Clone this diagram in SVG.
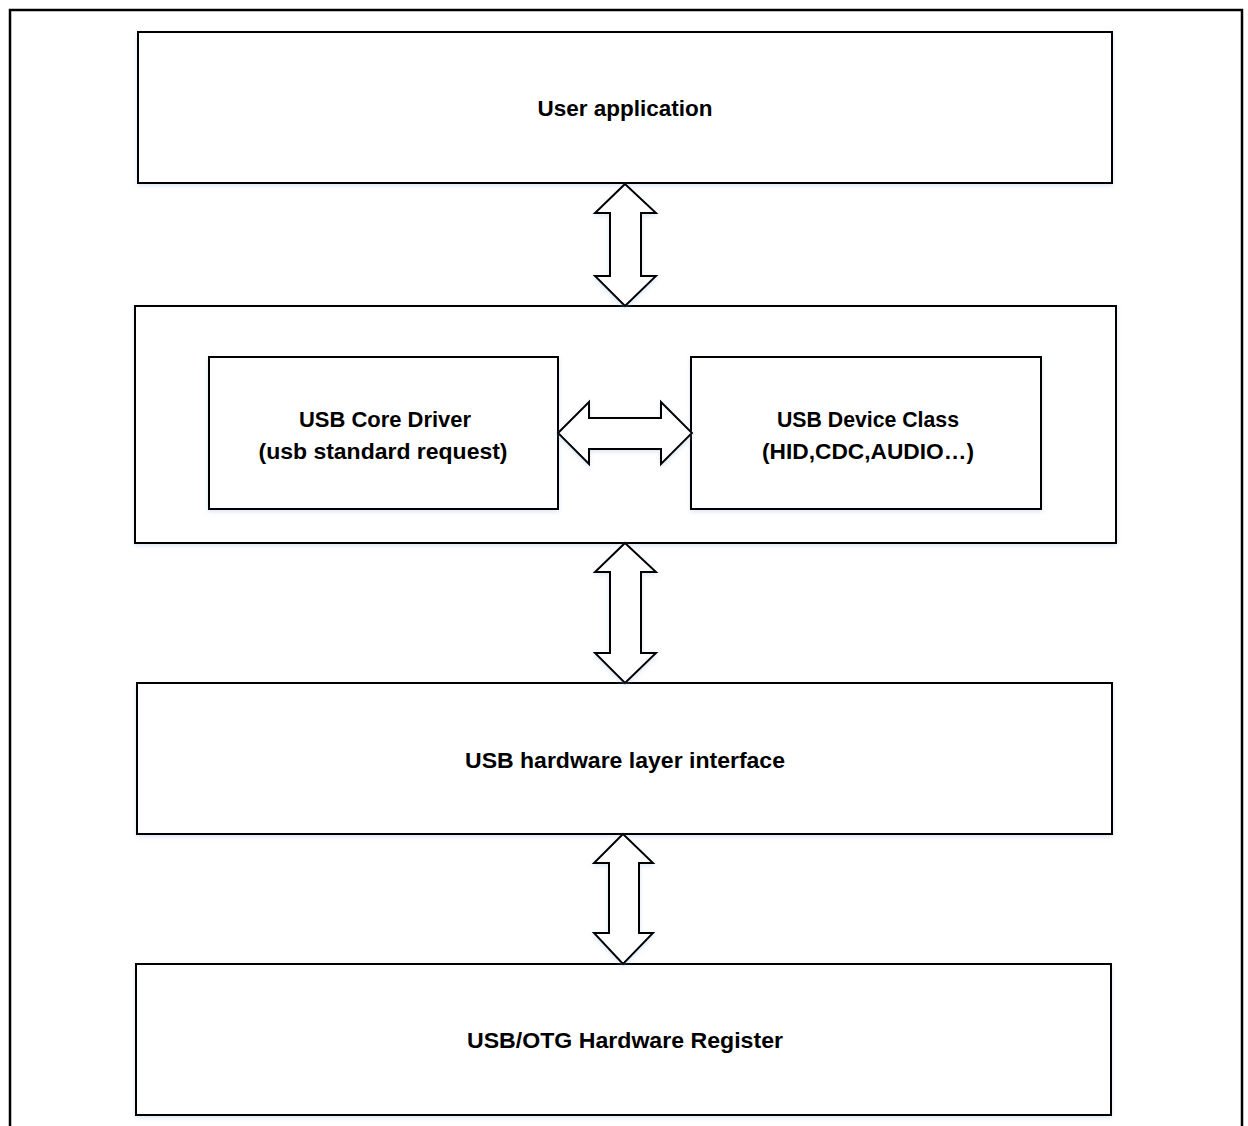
<svg xmlns="http://www.w3.org/2000/svg" width="1248" height="1126" viewBox="0 0 1248 1126">
  <defs>
    <filter id="soft" x="-10%" y="-10%" width="120%" height="130%">
      <feDropShadow dx="0" dy="2" stdDeviation="2" flood-color="#8fb0dc" flood-opacity="0.3"/>
    </filter>
  </defs>
  <style>
    .box { fill: #ffffff; stroke: #000000; stroke-width: 2; filter: url(#soft); }
    .arrow { fill: #ffffff; stroke: #000000; stroke-width: 2; stroke-linejoin: miter; filter: url(#soft); }
    .frame { fill: none; stroke: #000000; stroke-width: 2.5; }
    .label { font-family: "Liberation Sans", Arial, sans-serif; font-weight: bold; font-size: 22px; fill: #000000; text-anchor: middle; }
  </style>
  <rect width="1248" height="1126" fill="#ffffff"/>

  <!-- outer frame, open at the bottom -->
  <path class="frame" d="M10,1126 V10 H1242 V1126"/>

  <g id="user-application">
    <rect class="box" x="138" y="32" width="974" height="151"/>
    <text class="label" x="625" y="116" textLength="175" lengthAdjust="spacingAndGlyphs">User application</text>
  </g>

  <g id="core-layer">
    <rect class="box" x="135" y="306" width="981" height="237"/>
  </g>

  <g id="usb-core-driver">
    <rect class="box" x="209" y="357" width="349" height="152"/>
    <text class="label" x="385" y="427" textLength="172" lengthAdjust="spacingAndGlyphs">USB Core Driver</text>
    <text class="label" x="383" y="459" textLength="249" lengthAdjust="spacingAndGlyphs">(usb standard request)</text>
  </g>

  <g id="usb-device-class">
    <rect class="box" x="691" y="357" width="350" height="152"/>
    <text class="label" x="868" y="427" textLength="182" lengthAdjust="spacingAndGlyphs">USB Device Class</text>
    <text class="label" x="868" y="459" textLength="212" lengthAdjust="spacingAndGlyphs">(HID,CDC,AUDIO…)</text>
  </g>

  <g id="usb-hardware-layer">
    <rect class="box" x="137" y="683" width="975" height="151"/>
    <text class="label" x="625" y="768" textLength="320" lengthAdjust="spacingAndGlyphs">USB hardware layer interface</text>
  </g>

  <g id="usb-otg-register">
    <rect class="box" x="136" y="964" width="975" height="151"/>
    <text class="label" x="625" y="1048" textLength="316" lengthAdjust="spacingAndGlyphs">USB/OTG Hardware Register</text>
  </g>

  <g id="connectors">
    <polygon class="arrow" points="625,184 656,213 641,213 641,276 656,276 625,306 595,276 610,276 610,213 595,213"/>
    <polygon class="arrow" points="558,433 589,402 589,418 661,418 661,402 692,433 661,464 661,449 589,449 589,464"/>
    <polygon class="arrow" points="625,543 656,572 641,572 641,653 656,653 625,683 595,653 610,653 610,572 595,572"/>
    <polygon class="arrow" points="623,834 653,863 639,863 639,933 653,933 623,964 594,933 609,933 609,863 594,863"/>
  </g>
</svg>
